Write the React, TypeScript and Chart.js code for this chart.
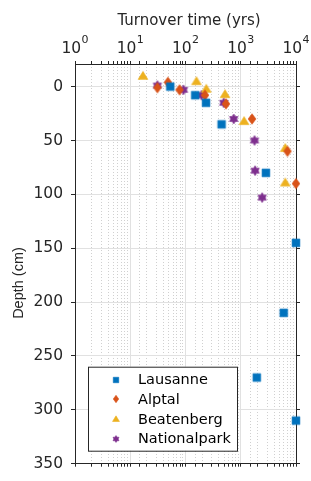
import React, { useEffect, useRef } from 'react';
import { Chart, registerables } from 'chart.js';

Chart.register(...registerables);

// ---- data ----
const seriesNames = ['Lausanne', 'Alptal', 'Beatenberg', 'Nationalpark'];
const seriesColors = ['#0072BD', '#D95319', '#EDB120', '#7E2F8E'];
const seriesMarkers = ['square', 'diamond', 'triangle', 'hexagram'];

const lausanneTime = [53, 150, 235, 450, 2850, 10000, 6000, 1950, 10000];
const lausanneDepth = [0, 8, 15, 35, 80, 145, 210, 270, 310];

const alptalTime = [31, 48, 78, 225, 540, 1600, 7000, 10000];
const alptalDepth = [1, -4, 3, 8, 16, 30, 60, 90];

const beatenbergTime = [17, 158, 238, 520, 1150, 6400, 6400];
const beatenbergDepth = [-10, -5, 2, 7, 32, 57, 89];

const nationalparkTime = [31, 92, 195, 492, 746, 1774, 1820, 2440];
const nationalparkDepth = [-1, 3, 8, 15, 30, 50, 78, 103];

const xTickExponents = [0, 1, 2, 3, 4];
const xMin = 1;
const xMax = 10000;
const yMin = -21;
const yMax = 350;
const yStep = 50;

const xTitle = 'Turnover time (yrs)';
const yTitle = 'Depth (cm)';

const AXIS_COLOR = '#262626';
const MAJOR_GRID = '#e1e1e1';
const MINOR_GRID = '#d0d0d0';

function makeMarker(kind: string, color: string, s: number): HTMLCanvasElement {
  const c = document.createElement('canvas');
  c.width = 14;
  c.height = 14;
  const ctx = c.getContext('2d')!;
  const cx = 7, cy = 7;
  ctx.fillStyle = color;
  ctx.strokeStyle = color;
  ctx.lineWidth = 0.6;
  ctx.beginPath();
  if (kind === 'square') {
    const h = 3.9 * s;
    ctx.rect(cx - h, cy - h, 2 * h, 2 * h);
  } else if (kind === 'diamond') {
    const hw = 3.9 * s, hh = 5.3 * s;
    ctx.moveTo(cx, cy - hh);
    ctx.lineTo(cx + hw, cy);
    ctx.lineTo(cx, cy + hh);
    ctx.lineTo(cx - hw, cy);
    ctx.closePath();
  } else if (kind === 'triangle') {
    const hw = 4.9 * s, top = 4.5 * s, bot = 3.5 * s;
    ctx.moveTo(cx, cy - top);
    ctx.lineTo(cx + hw, cy + bot);
    ctx.lineTo(cx - hw, cy + bot);
    ctx.closePath();
  } else {
    const R = 4.9 * s, r = 3.0 * s;
    for (let i = 0; i < 12; i++) {
      const a = -Math.PI / 2 + (i * Math.PI) / 6;
      const rad = i % 2 === 0 ? R : r;
      const px = cx + rad * Math.cos(a);
      const py = cy + rad * Math.sin(a);
      if (i === 0) ctx.moveTo(px, py);
      else ctx.lineTo(px, py);
    }
    ctx.closePath();
  }
  ctx.fill();
  ctx.stroke();
  return c;
}

export default function App() {
  const canvasRef = useRef<HTMLCanvasElement | null>(null);

  useEffect(() => {
    const canvas = canvasRef.current;
    if (!canvas) return;

    const plotMarkers = seriesMarkers.map((m, i) => makeMarker(m, seriesColors[i], 1));
    const legendMarkers = seriesMarkers.map((m, i) => makeMarker(m, seriesColors[i], 0.7));

    const times = [lausanneTime, alptalTime, beatenbergTime, nationalparkTime];
    const depths = [lausanneDepth, alptalDepth, beatenbergDepth, nationalparkDepth];

    const datasets = seriesNames.map((name, i) => ({
      label: name,
      data: times[i].map((t, j) => ({ x: t, y: depths[i][j] })),
      pointStyle: plotMarkers[i],
      pointRadius: 4,
      backgroundColor: seriesColors[i],
      borderColor: seriesColors[i],
      showLine: false,
      clip: false as any,
      xAxisID: 'x',
      yAxisID: 'y',
    }));

    const textPlugin = {
      id: 'axisTexts',
      afterDraw(chart: any) {
        const { ctx } = chart;
        const xs = chart.scales.x;
        ctx.save();
        ctx.fillStyle = AXIS_COLOR;
        ctx.textBaseline = 'alphabetic';
        ctx.textAlign = 'left';
        const baseFont = '15.5px "DejaVu Sans"';
        const expFont = '11px "DejaVu Sans"';
        xTickExponents.forEach((e) => {
          const px = xs.getPixelForValue(Math.pow(10, e));
          ctx.font = baseFont;
          const wBase = ctx.measureText('10').width;
          ctx.font = expFont;
          const wExp = ctx.measureText(String(e)).width;
          const total = wBase + wExp + 0.5;
          const x0 = px - total / 2;
          ctx.font = baseFont;
          ctx.fillText('10', x0, 53);
          ctx.font = expFont;
          ctx.fillText(String(e), x0 + wBase + 0.5, 43);
        });
        // x title (top)
        ctx.font = '15px "DejaVu Sans"';
        ctx.textAlign = 'center';
        ctx.fillText(xTitle, (xs.left + xs.right) / 2 + 3.5, 25);
        // y title (rotated)
        ctx.translate(23, 283);
        ctx.rotate(-Math.PI / 2);
        ctx.font = '14.5px "Liberation Sans"';
        ctx.textAlign = 'center';
        ctx.fillText(yTitle, 0, 0);
        ctx.restore();
      },
    };

    const legendPlugin = {
      id: 'insideLegend',
      afterDraw(chart: any) {
        const { ctx, chartArea } = chart;
        const left = chartArea.left + 13;
        const top = chartArea.bottom - 97;
        const w = 149;
        const h = 84;
        ctx.save();
        ctx.fillStyle = '#ffffff';
        ctx.fillRect(left, top, w, h);
        ctx.strokeStyle = AXIS_COLOR;
        ctx.lineWidth = 1;
        ctx.strokeRect(left + 0.5, top + 0.5, w, h);
        ctx.font = '14.5px "DejaVu Sans"';
        ctx.fillStyle = '#000000';
        ctx.textBaseline = 'middle';
        ctx.textAlign = 'left';
        seriesNames.forEach((name, i) => {
          const y = top + 13 + i * 19.6;
          const img = legendMarkers[i];
          ctx.drawImage(img, Math.round(left + 28 - img.width / 2), Math.round(y - img.height / 2));
          ctx.fillText(name, left + 50, y + 1);
        });
        ctx.restore();
      },
    };

    const isMajorLog = (v: number) => Math.abs(Math.log10(v) - Math.round(Math.log10(v))) < 1e-9;

    const chart = new Chart(canvas, {
      type: 'scatter',
      data: { datasets: datasets as any },
      options: {
        responsive: false,
        animation: false,
        events: [],
        layout: { padding: 0 },
        plugins: {
          legend: { display: false },
          tooltip: { enabled: false },
        },
        scales: {
          x: {
            type: 'logarithmic',
            position: 'top',
            min: xMin,
            max: xMax,
            afterFit: (s: any) => { s.height = 64; },
            ticks: { display: false, autoSkip: false },
            grid: {
              color: (c: any) => (c.tick && isMajorLog(c.tick.value) ? MAJOR_GRID : 'rgba(0,0,0,0)'),
              tickColor: AXIS_COLOR,
              tickLength: 3,
              lineWidth: 1,
            },
            border: { color: AXIS_COLOR, width: 1 },
            title: { display: false },
          },
          x2: {
            type: 'logarithmic',
            position: 'bottom',
            min: xMin,
            max: xMax,
            afterFit: (s: any) => { s.height = 8; },
            ticks: { display: false, autoSkip: false },
            grid: {
              color: (c: any) => (c.tick && !isMajorLog(c.tick.value) ? MINOR_GRID : 'rgba(0,0,0,0)'),
              tickColor: AXIS_COLOR,
              tickLength: 3,
              lineWidth: 1,
            },
            border: { color: AXIS_COLOR, width: 1, dash: [1, 2] },
          },
          y: {
            type: 'linear',
            position: 'left',
            reverse: true,
            min: yMin,
            max: yMax,
            afterFit: (s: any) => { s.width = 75; },
            ticks: {
              stepSize: yStep,
              includeBounds: false,
              color: AXIS_COLOR,
              padding: 8,
              font: { family: 'DejaVu Sans', size: 15.5 },
            },
            grid: {
              color: MAJOR_GRID,
              tickColor: AXIS_COLOR,
              tickLength: 4,
              lineWidth: 1,
            },
            border: { color: AXIS_COLOR, width: 1 },
            title: { display: false },
          },
          y2: {
            type: 'linear',
            position: 'right',
            reverse: true,
            min: yMin,
            max: yMax,
            afterFit: (s: any) => { s.width = 15; },
            ticks: { display: false, stepSize: yStep, includeBounds: false },
            grid: {
              drawOnChartArea: false,
              tickColor: AXIS_COLOR,
              tickLength: 4,
            },
            border: { color: AXIS_COLOR, width: 1 },
          },
        },
      } as any,
      plugins: [textPlugin, legendPlugin],
    });

    return () => {
      chart.destroy();
    };
  }, []);

  return (
    <div style={{ position: 'absolute', left: 0, top: 0, width: 311, height: 481, background: '#ffffff' }}>
      <canvas ref={canvasRef} width={311} height={481} style={{ display: 'block', width: 311, height: 481 }} />
    </div>
  );
}
